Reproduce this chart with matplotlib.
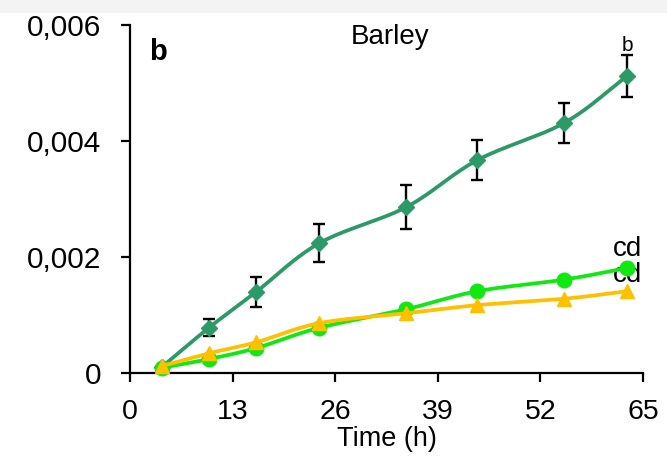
import numpy as np
import matplotlib
matplotlib.use("Agg")
import matplotlib.pyplot as plt
from matplotlib.patches import Rectangle

plt.rcParams['font.family'] = ['Liberation Sans', 'DejaVu Sans']

time_h = [4, 10, 16, 24, 35, 44, 55, 63]
series_dark = [0.00010, 0.00078, 0.00140, 0.00224, 0.00286, 0.00367, 0.00431, 0.00512]
err_dark = [0.0, 0.00015, 0.00026, 0.00033, 0.00038, 0.00035, 0.00035, 0.00036]
series_bright = [0.00009, 0.00024, 0.00043, 0.00078, 0.00110, 0.00141, 0.00161, 0.00181]
series_yellow = [0.00012, 0.00034, 0.00053, 0.00086, 0.00103, 0.00117, 0.00128, 0.00141]
x_ticks = [0, 13, 26, 39, 52, 65]
y_ticks = [0, 0.002, 0.004, 0.006]
y_tick_labels = ['0', '0,002', '0,004', '0,006']


def smooth(x, y, n=20):
    """Catmull-Rom curve through the points, like a smoothed spreadsheet line."""
    x = np.asarray(x, float)
    y = np.asarray(y, float)
    px = np.concatenate([[2 * x[0] - x[1]], x, [2 * x[-1] - x[-2]]])
    py = np.concatenate([[2 * y[0] - y[1]], y, [2 * y[-1] - y[-2]]])
    xs, ys = [], []
    t = np.linspace(0, 1, n, endpoint=False)
    for i in range(1, len(px) - 2):
        for arr, out in ((px, xs), (py, ys)):
            p0, p1, p2, p3 = arr[i - 1], arr[i], arr[i + 1], arr[i + 2]
            out.extend(0.5 * ((2 * p1) + (-p0 + p2) * t
                              + (2 * p0 - 5 * p1 + 4 * p2 - p3) * t ** 2
                              + (-p0 + 3 * p1 - 3 * p2 + p3) * t ** 3))
    xs.append(x[-1])
    ys.append(y[-1])
    return np.array(xs), np.array(ys)


fig = plt.figure(figsize=(6.67, 4.58), dpi=100)
fig.patches.append(Rectangle((0, 1 - 13 / 458), 1, 13 / 458, transform=fig.transFigure,
                             facecolor='#f3f3f3', edgecolor='none', zorder=0))
ax_w, ax_h = 513, 348
ax = fig.add_axes([130 / 667, 1 - 373 / 458, ax_w / 667, ax_h / 458])

c_dark = '#2b9a66'
c_bright = '#11e811'
c_yellow = '#ffc000'

sx, sy = smooth(time_h, series_dark)
ax.plot(sx, sy, color=c_dark, lw=2.7, zorder=2)
ax.errorbar(time_h, series_dark, yerr=err_dark, fmt='none', ecolor='black',
            elinewidth=1.7, capsize=4, capthick=1.7, zorder=3)
ax.plot(time_h, series_dark, linestyle='none', marker='D', ms=8.5, color=c_dark, zorder=3)

sx, sy = smooth(time_h, series_bright)
ax.plot(sx, sy, color=c_bright, lw=2.7, zorder=4)
ax.plot(time_h, series_bright, linestyle='none', marker='o', ms=10.5, color=c_bright, zorder=4,
        clip_on=False)

sx, sy = smooth(time_h, series_yellow)
ax.plot(sx, sy, color=c_yellow, lw=2.7, zorder=5)
ax.plot(time_h, series_yellow, linestyle='none', marker='^', ms=10.5, color=c_yellow, zorder=5,
        clip_on=False)

ax.set_xlim(0, 65)
ax.set_ylim(0, 0.006)
ax.set_xticks(x_ticks)
ax.set_xticklabels([str(v) for v in x_ticks])
ax.set_yticks(y_ticks)
ax.set_yticklabels(y_tick_labels)
ax.tick_params(axis='both', direction='out', length=6.5, width=1.6)
ax.tick_params(axis='y', labelsize=21.5, pad=14)
ax.tick_params(axis='x', labelsize=20.5, pad=12)
for side in ('top', 'right'):
    ax.spines[side].set_visible(False)
for side in ('left', 'bottom'):
    ax.spines[side].set_linewidth(1.6)
ax.set_xlabel('Time (h)', fontsize=19.5, labelpad=1)

ax.text(28 / ax_w, 1 - 27 / ax_h, 'b', transform=ax.transAxes, fontsize=21, fontweight='bold',
        ha='center', va='center')
ax.text(260 / ax_w, 1 - 12 / ax_h, 'Barley', transform=ax.transAxes, fontsize=20,
        ha='center', va='center')
ax.text(time_h[-1], series_dark[-1] + 0.00052, 'b', fontsize=15, ha='center', va='center')
ax.text(time_h[-1], series_bright[-1] + 0.00033, 'cd', fontsize=20, ha='center', va='center')
ax.text(time_h[-1], series_yellow[-1] + 0.00028, 'cd', fontsize=20, ha='center', va='center')

fig.savefig('out.png', dpi=100, facecolor='white')
